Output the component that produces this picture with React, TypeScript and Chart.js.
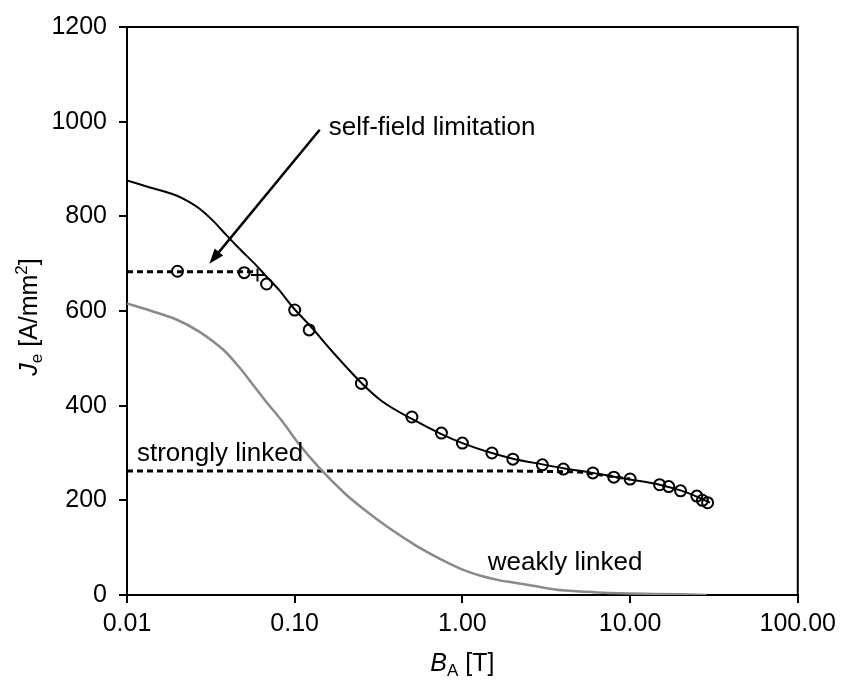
import { useEffect, useRef } from 'react';
import { Chart, registerables } from 'chart.js';

Chart.register(...registerables);

const FONT = "'Liberation Sans', Arial, Helvetica, sans-serif";

// Fitted curve (solid black)
const fitB = [0.01, 0.0137, 0.0197, 0.0236, 0.0271, 0.0325, 0.039, 0.0447, 0.0512, 0.0588, 0.0673, 0.0809, 0.0969, 0.127, 0.167, 0.25, 0.33, 0.5, 0.75, 1, 1.5, 2, 3, 4, 6, 8, 10, 15, 20, 25, 30];
const fitJ = [876, 861, 844, 830, 816, 791, 761, 739, 718, 697, 674, 644, 609, 564, 515, 448, 410, 372, 340, 321, 300, 288, 276, 268, 258, 250, 244, 233, 221, 208, 195];

// Measured points (open circles)
const measB = [0.02, 0.05, 0.068, 0.1, 0.122, 0.25, 0.5, 0.75, 1, 1.5, 2, 3, 4, 6, 8, 10, 15, 17, 20, 25, 27, 29];
const measJ = [684, 681, 657, 602, 560, 447, 376, 342, 321, 300, 287, 275, 266, 258, 249, 245, 233, 229, 220, 209, 200, 195];

// Cross marker
const crossB = [0.06];
const crossJ = [676];

// Self-field limitation (dashed)
const selfB = [0.01, 0.06];
const selfJ = [683, 683];

// Strongly linked (dashed)
const strongB = [0.01, 2, 5, 10];
const strongJ = [262, 262, 260, 245];

// Weakly linked (grey)
const weakB = [0.01, 0.0137, 0.0197, 0.0271, 0.0325, 0.0381, 0.047, 0.057, 0.067, 0.0847, 0.106, 0.139, 0.2, 0.263, 0.36, 0.52, 0.654, 0.82, 1.03, 1.3, 1.62, 2.04, 2.58, 3.66, 5.3, 7, 10, 20, 28.5];
const weakJ = [616, 601, 582, 556, 536, 516, 480, 442, 410, 366, 319, 270, 214, 179, 143, 106, 86, 68, 52, 40, 32, 26, 20, 11, 7, 4.5, 3, 1.5, 0];

// Axis ticks
const xTickValues = [0.01, 0.1, 1, 10, 100];
const yMin = 0;
const yMax = 1200;
const yStep = 200;

// Annotations (data coordinates)
const arrowFromB = 0.141;
const arrowFromJ = 983;
const arrowToB = 0.031;
const arrowToJ = 700;
const noteTexts = ['self-field limitation', 'strongly linked', 'weakly linked'];
const noteB = [0.1596, 0.01146, 1.416];
const noteJ = [987, 298, 69];

type Part = { t: string; italic?: boolean; sub?: boolean; sup?: boolean };
const yTitleParts: Part[] = [{ t: 'J', italic: true }, { t: 'e', sub: true }, { t: ' [A/mm' }, { t: '2', sup: true }, { t: ']' }];
const xTitleParts: Part[] = [{ t: 'B', italic: true }, { t: 'A', sub: true }, { t: ' [T]' }];

function pts(xs: number[], ys: number[]) {
  return xs.map((x, i) => ({ x, y: ys[i] }));
}

function partFont(p: Part) {
  const size = p.sub || p.sup ? 17 : 25;
  return `${p.italic ? 'italic ' : ''}${size}px ${FONT}`;
}

function drawRich(ctx: CanvasRenderingContext2D, parts: Part[], cx: number, baseY: number) {
  let total = 0;
  for (const p of parts) {
    ctx.font = partFont(p);
    total += ctx.measureText(p.t).width;
  }
  let xPos = cx - total / 2;
  ctx.textAlign = 'left';
  ctx.textBaseline = 'alphabetic';
  for (const p of parts) {
    ctx.font = partFont(p);
    const off = p.sub ? 5 : p.sup ? -10 : 0;
    ctx.fillText(p.t, xPos, baseY + off);
    xPos += ctx.measureText(p.t).width;
  }
}

const overlayPlugin = {
  id: 'overlay',
  afterDatasetsDraw(chart: any) {
    const { ctx, chartArea } = chart;
    const xs = chart.scales.x;
    const ys = chart.scales.y;
    ctx.save();
    // frame top and right
    ctx.strokeStyle = '#000';
    ctx.lineWidth = 2;
    ctx.beginPath();
    ctx.moveTo(chartArea.left, chartArea.top);
    ctx.lineTo(chartArea.right, chartArea.top);
    ctx.lineTo(chartArea.right, chartArea.bottom);
    ctx.stroke();

    // arrow
    const x0 = xs.getPixelForValue(arrowFromB);
    const y0 = ys.getPixelForValue(arrowFromJ);
    const x1 = xs.getPixelForValue(arrowToB);
    const y1 = ys.getPixelForValue(arrowToJ);
    const ang = Math.atan2(y1 - y0, x1 - x0);
    const headLen = 15;
    const headW = 5.5;
    ctx.lineWidth = 2.5;
    ctx.beginPath();
    ctx.moveTo(x0, y0);
    ctx.lineTo(x1 - Math.cos(ang) * headLen * 0.8, y1 - Math.sin(ang) * headLen * 0.8);
    ctx.stroke();
    ctx.fillStyle = '#000';
    ctx.beginPath();
    ctx.moveTo(x1, y1);
    ctx.lineTo(x1 - Math.cos(ang) * headLen - Math.sin(ang) * headW, y1 - Math.sin(ang) * headLen + Math.cos(ang) * headW);
    ctx.lineTo(x1 - Math.cos(ang) * headLen + Math.sin(ang) * headW, y1 - Math.sin(ang) * headLen - Math.cos(ang) * headW);
    ctx.closePath();
    ctx.fill();

    // notes
    ctx.font = `26px ${FONT}`;
    ctx.textAlign = 'left';
    ctx.textBaseline = 'middle';
    noteTexts.forEach((t, i) => {
      ctx.fillText(t, xs.getPixelForValue(noteB[i]), ys.getPixelForValue(noteJ[i]));
    });

    // x title
    drawRich(ctx, xTitleParts, (chartArea.left + chartArea.right) / 2, 671);

    // y title
    ctx.save();
    ctx.translate(37, (chartArea.top + chartArea.bottom) / 2 + 6);
    ctx.rotate(-Math.PI / 2);
    drawRich(ctx, yTitleParts, 0, 0);
    ctx.restore();

    ctx.restore();
  },
};

export default function App() {
  const ref = useRef<HTMLCanvasElement | null>(null);
  useEffect(() => {
    if (!ref.current) return;
    const lineBase = { pointRadius: 0, pointHoverRadius: 0, showLine: true, fill: false };
    const chart = new Chart(ref.current, {
      type: 'scatter',
      data: {
        datasets: [
          {
            ...lineBase,
            label: 'weakly linked',
            data: pts(weakB, weakJ),
            borderColor: '#8a8a8a',
            borderWidth: 2.5,
            cubicInterpolationMode: 'monotone',
          },
          {
            ...lineBase,
            label: 'strongly linked',
            data: pts(strongB, strongJ),
            borderColor: '#000',
            borderWidth: 3,
            borderDash: [6, 4],
          },
          {
            ...lineBase,
            label: 'self-field',
            data: pts(selfB, selfJ),
            borderColor: '#000',
            borderWidth: 3,
            borderDash: [6, 4],
          },
          {
            ...lineBase,
            label: 'fit',
            data: pts(fitB, fitJ),
            borderColor: '#000',
            borderWidth: 2,
            cubicInterpolationMode: 'monotone',
          },
          {
            label: 'measured',
            data: pts(measB, measJ),
            showLine: false,
            pointStyle: 'circle',
            pointRadius: 5.5,
            pointBorderWidth: 2,
            pointBorderColor: '#000',
            pointBackgroundColor: 'rgba(0,0,0,0)',
            borderColor: '#000',
            backgroundColor: 'rgba(0,0,0,0)',
          },
          {
            label: 'cross',
            data: pts(crossB, crossJ),
            showLine: false,
            pointStyle: 'cross',
            pointRadius: 6.5,
            pointBorderWidth: 2,
            pointBorderColor: '#000',
            borderColor: '#000',
          },
        ],
      },
      options: {
        animation: false,
        responsive: false,
        maintainAspectRatio: false,
        layout: { padding: { top: 24, right: 40, left: 0, bottom: 0 } },
        plugins: { legend: { display: false }, tooltip: { enabled: false } },
        events: [],
        scales: {
          x: {
            type: 'logarithmic',
            min: 0.01,
            max: 100,
            afterBuildTicks: (s: any) => {
              s.ticks = xTickValues.map((v) => ({ value: v }));
            },
            afterFit: (s: any) => {
              s.height = 89;
            },
            ticks: {
              callback: (v: any) => Number(v).toFixed(2),
              font: { family: FONT, size: 25 },
              color: '#000',
              padding: 6,
              maxRotation: 0,
              autoSkip: false,
            },
            grid: { drawOnChartArea: false, drawTicks: true, tickLength: 8, color: '#000', lineWidth: 2 },
            border: { color: '#000', width: 2 },
          },
          y: {
            type: 'linear',
            min: yMin,
            max: yMax,
            afterFit: (s: any) => {
              s.width = 127;
            },
            ticks: {
              stepSize: yStep,
              callback: (v: any) => String(v),
              font: { family: FONT, size: 25 },
              color: '#000',
              padding: 12,
            },
            grid: { drawOnChartArea: false, drawTicks: true, tickLength: 8, color: '#000', lineWidth: 2 },
            border: { color: '#000', width: 2 },
          },
        },
      } as any,
      plugins: [overlayPlugin],
    });
    return () => chart.destroy();
  }, []);
  return (
    <div style={{ position: 'fixed', left: 0, top: 0, width: 842, height: 684, background: '#fff' }}>
      <canvas ref={ref} width={842} height={684} style={{ display: 'block', width: 842, height: 684 }} />
    </div>
  );
}
